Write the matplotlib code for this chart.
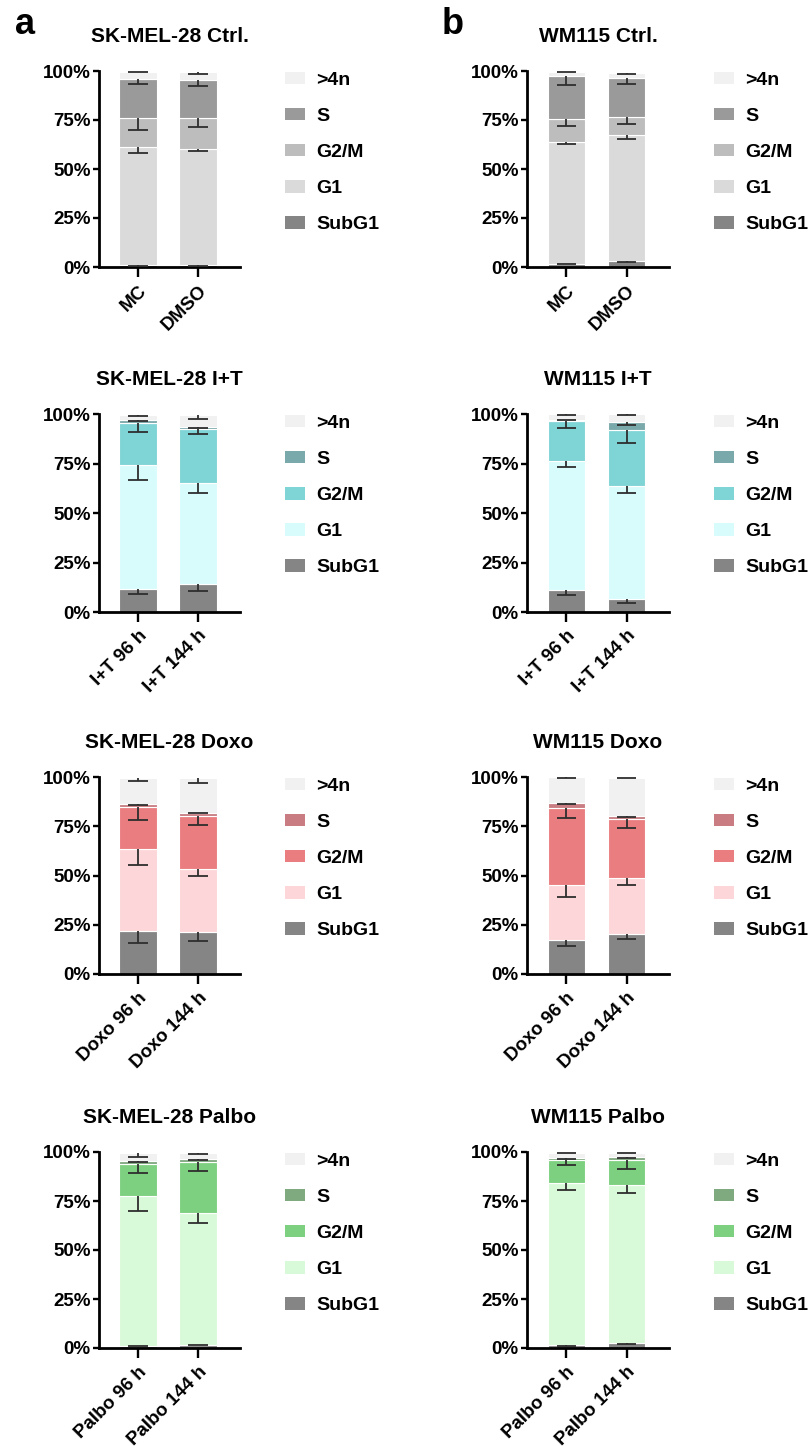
import matplotlib.pyplot as plt
from matplotlib.patches import Patch
import numpy as np

plt.rcParams['font.family'] = ['Liberation Sans', 'DejaVu Sans']
plt.rcParams['font.weight'] = 'bold'

# cell-cycle phases, bottom to top of each stacked bar
phases = ['SubG1', 'G1', 'G2/M', 'S', '>4n']

# x labels
ctrl_labels = ['MC', 'DMSO']
it_labels = ['I+T 96 h', 'I+T 144 h']
doxo_labels = ['Doxo 96 h', 'Doxo 144 h']
palbo_labels = ['Palbo 96 h', 'Palbo 144 h']

# mean % per phase (SubG1, G1, G2/M, S, >4n) for each bar, and SD
sk_ctrl = [[0.9, 60.3, 15.0, 19.9, 3.5], [1.0, 59.0, 16.0, 19.3, 4.1]]
sk_ctrl_sd = [[0.3, 3.0, 6.5, 2.6, 0.3], [0.3, 0.6, 4.5, 3.0, 0.9]]
wm_ctrl = [[1.7, 62.1, 11.5, 22.0, 2.4], [2.9, 64.4, 9.4, 19.9, 2.6]]
wm_ctrl_sd = [[0.3, 1.2, 3.5, 4.3, 0.3], [0.3, 1.8, 3.6, 3.1, 0.6]]

sk_it = [[11.8, 62.4, 21.3, 1.3, 2.7], [13.9, 51.1, 27.5, 1.1, 6.0]]
sk_it_sd = [[2.7, 7.5, 4.4, 0.3, 0.5], [3.3, 4.7, 2.8, 0.5, 2.1]]
wm_it = [[11.0, 65.5, 19.8, 0.8, 2.7], [6.8, 56.9, 28.4, 3.7, 4.0]]
wm_it_sd = [[2.2, 3.5, 3.4, 0.3, 0.3], [2.1, 3.7, 6.8, 1.2, 0.3]]

sk_doxo = [[22.0, 41.2, 21.6, 1.4, 13.5], [21.3, 32.2, 26.5, 1.8, 17.9]]
sk_doxo_sd = [[6.1, 8.0, 6.4, 0.2, 1.9], [4.6, 3.8, 4.5, 0.2, 2.7]]
wm_doxo = [[17.2, 28.1, 39.2, 2.3, 13.0], [20.1, 28.5, 30.2, 1.6, 19.2]]
wm_doxo_sd = [[2.8, 6.1, 5.3, 0.5, 0.2], [2.2, 3.3, 4.6, 0.5, 0.3]]

sk_palbo = [[1.2, 76.4, 16.1, 1.7, 4.3], [1.7, 67.2, 26.0, 1.5, 3.3]]
sk_palbo_sd = [[0.3, 7.7, 4.4, 0.3, 2.3], [0.3, 5.0, 4.8, 0.3, 0.9]]
wm_palbo = [[1.4, 83.0, 11.7, 0.8, 2.8], [2.4, 80.9, 12.4, 1.6, 2.4]]
wm_palbo_sd = [[0.3, 4.0, 2.9, 0.5, 0.2], [0.4, 4.0, 4.5, 0.3, 0.4]]

# colours for SubG1, G1, G2/M, S, >4n
ctrl_colors = ['#858585', '#dadada', '#bdbdbd', '#9a9a9a', '#f1f1f1']
it_colors = ['#858585', '#d8fcfc', '#7fd4d6', '#7aa9ab', '#f1f1f1']
doxo_colors = ['#858585', '#fdd6d9', '#e97d80', '#c97d82', '#f1f1f1']
palbo_colors = ['#858585', '#d8fad8', '#7dd07f', '#7fa97f', '#f1f1f1']

W, H = 808, 1446
fig = plt.figure(figsize=(W / 100, H / 100), dpi=100)

cols = [(99, 240), (527, 669)]
rows = [(71, 267), (414, 612), (777, 974), (1152, 1348)]

panels = [
    ('SK-MEL-28 Ctrl.', ctrl_labels, sk_ctrl, sk_ctrl_sd, ctrl_colors),
    ('WM115 Ctrl.', ctrl_labels, wm_ctrl, wm_ctrl_sd, ctrl_colors),
    ('SK-MEL-28 I+T', it_labels, sk_it, sk_it_sd, it_colors),
    ('WM115 I+T', it_labels, wm_it, wm_it_sd, it_colors),
    ('SK-MEL-28 Doxo', doxo_labels, sk_doxo, sk_doxo_sd, doxo_colors),
    ('WM115 Doxo', doxo_labels, wm_doxo, wm_doxo_sd, doxo_colors),
    ('SK-MEL-28 Palbo', palbo_labels, sk_palbo, sk_palbo_sd, palbo_colors),
    ('WM115 Palbo', palbo_labels, wm_palbo, wm_palbo_sd, palbo_colors),
]

bar_w = 0.62
cap = 0.16
for i, (title, labels, vals, sds, colors) in enumerate(panels):
    x0, x1 = cols[i % 2]
    y0, y1 = rows[i // 2]
    ax = fig.add_axes([x0 / W, 1 - y1 / H, (x1 - x0) / W, (y1 - y0) / H])
    vals = np.array(vals)
    sds = np.array(sds)
    x = np.arange(len(labels))
    bottom = np.zeros(len(labels))
    for j, ph in enumerate(phases):
        ax.bar(x, vals[:, j], bar_w, bottom=bottom, color=colors[j],
               edgecolor='white', linewidth=0.8, zorder=2)
        top = bottom + vals[:, j]
        # error bars drawn downward from the top of each segment
        ax.vlines(x, top - sds[:, j], top, color='#2e2e2e', lw=1.3, zorder=3)
        ax.hlines(top - sds[:, j], x - cap, x + cap, color='#2e2e2e', lw=1.3, zorder=3)
        bottom = top

    ax.set_xlim(-0.65, 1.7)
    ax.set_ylim(0, 100)
    ax.set_yticks([0, 25, 50, 75, 100])
    ax.set_yticklabels(['0%', '25%', '50%', '75%', '100%'], fontsize=13.5, fontweight='bold')
    ax.set_xticks(x)
    ax.set_xticklabels(labels, rotation=45, ha='right', rotation_mode='anchor',
                       fontsize=13.5, fontweight='bold')
    for s in ['top', 'right']:
        ax.spines[s].set_visible(False)
    for s in ['left', 'bottom']:
        ax.spines[s].set_linewidth(2.0)
    ax.tick_params(axis='y', length=4.5, width=1.7, pad=1.5)
    ax.tick_params(axis='x', length=7, width=1.7, pad=4)
    ax.set_title(title, fontsize=15, fontweight='bold', pad=21)

    handles = [Patch(facecolor=colors[j], edgecolor='none') for j in range(len(phases))][::-1]
    ax.legend(handles, phases[::-1], loc='upper left', bbox_to_anchor=(1.32, 0.995),
              frameon=False, fontsize=14, handlelength=1.0, handleheight=0.6,
              labelspacing=0.98, handletextpad=0.6, borderpad=0, borderaxespad=0)

fig.text(15 / W, 1 - 34 / H, 'a', fontsize=26, fontweight='bold')
fig.text(442 / W, 1 - 34 / H, 'b', fontsize=26, fontweight='bold')

fig.savefig('out.png', dpi=100, facecolor='white')
